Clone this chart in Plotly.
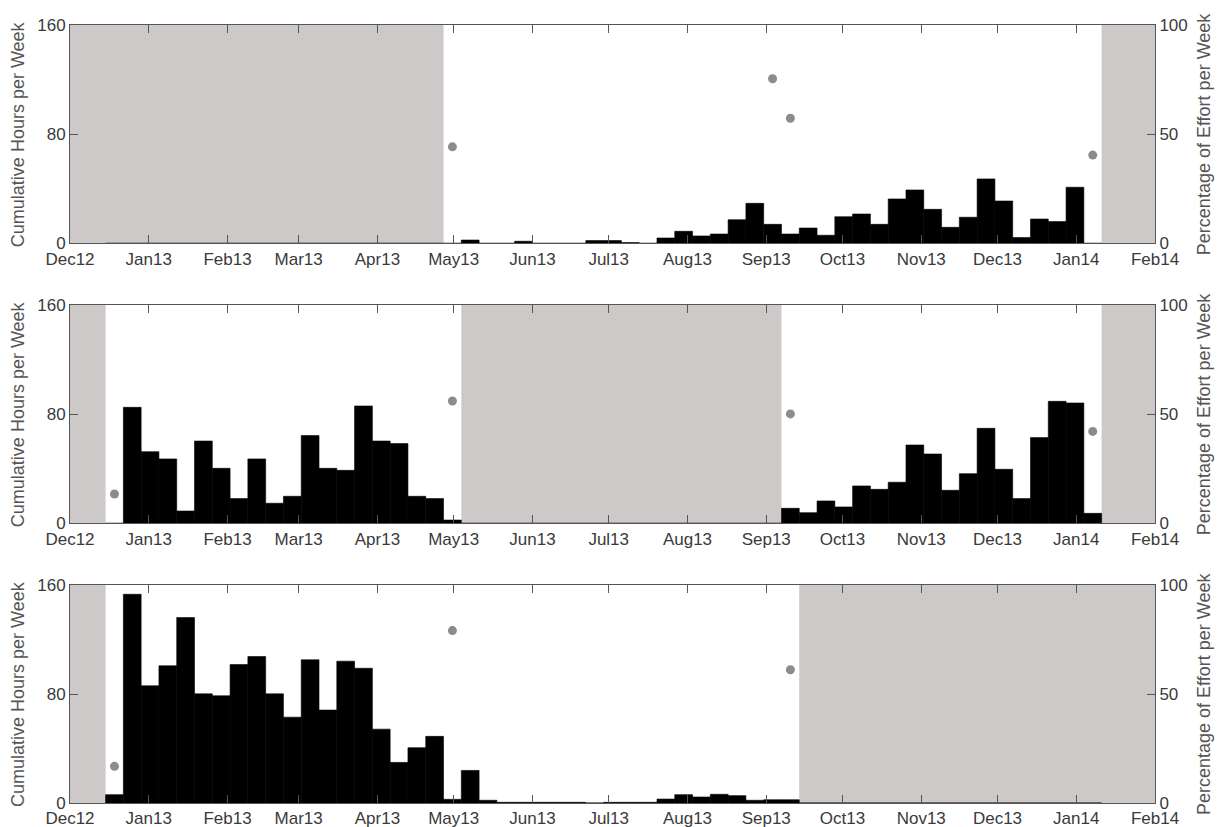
import pandas as pd
import plotly.graph_objects as go

# ---------------- data ----------------
week_starts = pd.date_range("2012-12-15", periods=56, freq="7D")

hours_panel1 = [0, 0, 0, 0, 0, 0, 0, 0, 0, 0, 0, 0, 0, 0, 0, 0, 0, 0, 0,
                0, 2.4, 0, 0, 1.5, 0, 0, 0, 2.0, 2.0, 0.5, 0,
                3.9, 8.8, 5.4, 6.8, 17.3, 29.3, 13.9, 6.8, 11.2, 5.9,
                19.5, 21.5, 13.9, 32.5, 39.1, 24.9, 11.7, 19.1, 47.2, 31.0,
                4.2, 17.8, 15.9, 41.1, 0]
hours_panel2 = [0, 85.0, 52.5, 47.2, 9.0, 60.3, 40.3, 18.1, 47.2, 14.7, 19.8,
                64.3, 40.3, 38.8, 86.0, 60.3, 58.4, 19.8, 18.1, 2.4,
                0, 0, 0, 0, 0, 0, 0, 0, 0, 0, 0, 0, 0, 0, 0, 0, 0, 0,
                11.0, 7.8, 16.4, 12.0, 27.4, 24.9, 30.1, 57.4, 50.8, 24.2,
                36.4, 69.6, 39.6, 18.1, 62.8, 89.4, 88.2, 7.3]
hours_panel3 = [6.1, 153.2, 86.0, 100.7, 136.1, 80.1, 78.7, 101.6, 107.5, 80.1,
                63.0, 105.1, 68.2, 104.1, 98.9, 54.2, 29.8, 40.6, 48.9, 2.7,
                23.9, 2.0, 0.5, 0.5, 0.5, 0.5, 0.5, 0, 0.5, 0.5, 0.5,
                2.9, 6.1, 4.4, 6.4, 5.4, 2.0, 2.4, 2.4,
                0, 0, 0, 0, 0, 0, 0, 0, 0, 0, 0, 0, 0, 0, 0, 0, 0, 0]

effort_dates_panel1 = ["2013-04-30 12:00", "2013-09-03 12:00", "2013-09-10 12:00", "2014-01-07 12:00"]
effort_pct_panel1 = [44.2, 75.4, 57.3, 40.4]
effort_dates_panel2 = ["2012-12-18 12:00", "2013-04-30 12:00", "2013-09-10 12:00", "2014-01-07 12:00"]
effort_pct_panel2 = [13.4, 56.0, 50.1, 42.1]
effort_dates_panel3 = ["2012-12-18 12:00", "2013-04-30 12:00", "2013-09-10 12:00"]
effort_pct_panel3 = [16.8, 79.1, 61.1]

off_periods_panel1 = [("2012-12-01", "2013-04-27"), ("2014-01-11", "2014-02-01")]
off_periods_panel2 = [("2012-12-01", "2012-12-15"), ("2013-05-04", "2013-09-07"), ("2014-01-11", "2014-02-01")]
off_periods_panel3 = [("2012-12-01", "2012-12-15"), ("2013-09-14", "2014-02-01")]

month_ticks = ["2012-12-01", "2013-01-01", "2013-02-01", "2013-03-01", "2013-04-01",
               "2013-05-01", "2013-06-01", "2013-07-01", "2013-08-01", "2013-09-01",
               "2013-10-01", "2013-11-01", "2013-12-01", "2014-01-01", "2014-02-01"]
month_labels = ["Dec12", "Jan13", "Feb13", "Mar13", "Apr13", "May13", "Jun13", "Jul13",
                "Aug13", "Sep13", "Oct13", "Nov13", "Dec13", "Jan14", "Feb14"]

left_ticks = [0, 80, 160]
right_ticks = [0, 50, 100]
left_title = "Cumulative Hours per Week"
right_title = "Percentage of Effort per Week"

# ---------------- figure ----------------
FONT = "Liberation Sans, Arial, sans-serif"
AXC = "#555555"
TXT = "#3a3a3a"
GRAY = "#ccc9c8"
WEEK_MS = 7 * 24 * 3600 * 1000
TICKSIZE = 17

panels = [
    (hours_panel1, effort_dates_panel1, effort_pct_panel1, off_periods_panel1, [0.7194, 1.0]),
    (hours_panel2, effort_dates_panel2, effort_pct_panel2, off_periods_panel2, [0.3595, 0.6401]),
    (hours_panel3, effort_dates_panel3, effort_pct_panel3, off_periods_panel3, [0.0, 0.2802]),
]

fig = go.Figure()
layout = dict(
    width=1217, height=827,
    margin=dict(l=70, r=62, t=25, b=24, autoexpand=False),
    paper_bgcolor="white", plot_bgcolor="white",
    showlegend=False,
    font=dict(family=FONT, size=TICKSIZE, color=TXT),
    shapes=[], annotations=[],
)

for i, (hours, edates, epct, offs, dom) in enumerate(panels):
    n = i + 1
    xa = "x" if n == 1 else f"x{n}"
    ya = "y" if n == 1 else f"y{n}"
    yr_num = 3 + n  # right axes y4, y5, y6
    yr = f"y{yr_num}"

    fig.add_trace(go.Bar(
        x=week_starts, y=hours, width=WEEK_MS, offset=0,
        marker=dict(color="black", line=dict(width=0.6, color="black")),
        xaxis=xa, yaxis=ya, hoverinfo="x+y",
    ))
    fig.add_trace(go.Scatter(
        x=pd.to_datetime(edates), y=epct, mode="markers",
        marker=dict(color="#8c8c8c", size=9, line=dict(width=0)),
        xaxis=xa, yaxis=yr,
    ))

    xkey = "xaxis" if n == 1 else f"xaxis{n}"
    ykey = "yaxis" if n == 1 else f"yaxis{n}"
    layout[xkey] = dict(
        domain=[0, 1], anchor=ya, type="date", automargin=False,
        range=["2012-12-01", "2014-02-01"],
        tickvals=month_ticks, ticktext=month_labels,
        ticks="inside", ticklen=8, tickwidth=1, tickcolor=AXC,
        showline=True, linecolor=AXC, linewidth=1, mirror="ticks",
        showgrid=False, zeroline=False,
        tickfont=dict(family=FONT, size=TICKSIZE, color=TXT),
    )
    layout[ykey] = dict(
        domain=dom, anchor=xa, range=[0, 160], automargin=False,
        tickvals=left_ticks, ticks="inside", ticklen=8, tickwidth=1, tickcolor=AXC,
        showline=True, linecolor=AXC, linewidth=1,
        showgrid=False, zeroline=False,
        tickfont=dict(family=FONT, size=TICKSIZE, color=TXT),
    )
    layout[f"yaxis{yr_num}"] = dict(
        overlaying=ya, side="right", anchor=xa, range=[0, 100], automargin=False,
        tickvals=right_ticks, ticks="inside", ticklen=8, tickwidth=1, tickcolor=AXC,
        showline=True, linecolor=AXC, linewidth=1,
        showgrid=False, zeroline=False,
        tickfont=dict(family=FONT, size=TICKSIZE, color=TXT),
    )

    for (a, b) in offs:
        layout["shapes"].append(dict(
            type="rect", xref=xa, yref=f"{ya} domain",
            x0=a, x1=b, y0=0, y1=1,
            fillcolor=GRAY, line=dict(width=0), layer="below",
        ))

    ymid = (dom[0] + dom[1]) / 2
    layout["annotations"].append(dict(
        text=left_title, textangle=-90, xref="paper", yref="paper",
        x=0, y=ymid, xanchor="center", yanchor="middle", xshift=-52,
        showarrow=False, font=dict(family=FONT, size=18, color="#555555"),
    ))
    layout["annotations"].append(dict(
        text=right_title, textangle=-90, xref="paper", yref="paper",
        x=1, y=ymid, xanchor="center", yanchor="middle", xshift=49,
        showarrow=False, font=dict(family=FONT, size=18, color="#555555"),
    ))

fig.update_layout(**layout)
# remove the default 8px page margin so the 1217x827 figure fills the window exactly
fig.write_html(
    "out.html",
    config={"displayModeBar": False},
    post_script="document.body.style.margin='0px';document.body.style.overflow='hidden';",
)
